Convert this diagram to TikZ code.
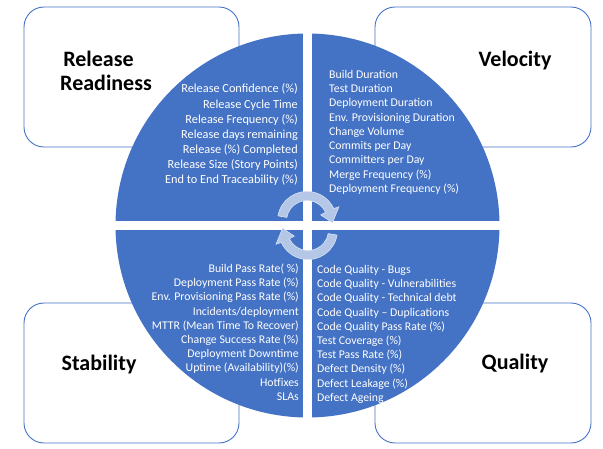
\documentclass[tikz,border=0pt]{standalone}
\usepackage{fontspec}
\setmainfont{Carlito}
\definecolor{obl}{HTML}{4472C4}
\definecolor{arrowfill}{HTML}{B4C7E7}
\newcommand\cyclearrow{%
  \path[carrow] (170:29.5) arc[start angle=170,end angle=25,radius=29.5]
    -- (24:35) -- (-4:25.5) -- (24:15) -- (25:20.5)
    arc[start angle=25,end angle=170,radius=20.5] -- cycle;}
\begin{document}
\begin{tikzpicture}[x=1pt,y=1pt,
  box/.style={draw=obl, line width=0.9pt, fill=white, rounded corners=20pt, inner sep=0pt},
  title/.style={font=\fontsize{22}{26}\selectfont\bfseries, text=black, inner sep=0pt, anchor=base},
  item/.style={font=\fontsize{11.8}{13}\selectfont, text=white, inner sep=0pt},
  ritem/.style={font=\fontsize{12.3}{14}\selectfont, text=white, inner sep=0pt},
  carrow/.style={fill=arrowfill, draw=white!50!arrowfill, line width=0.6pt}]
\useasboundingbox (0,0) rectangle (603,448);
\fill[white] (0,0) rectangle (603,448);
% boxes
\node[box, minimum width=215pt, minimum height=140pt] (rrbox) at (131.5,371) {};
\node[box, minimum width=216pt, minimum height=140pt] (velbox) at (483,371) {};
\node[box, minimum width=215pt, minimum height=140pt] (stabbox) at (131.5,75) {};
\node[box, minimum width=216pt, minimum height=140pt] (qualbox) at (483,75) {};
% titles
\node[title] (rrt1) at (98.5,381) {Release};
\node[title] (rrt2) at (106,357) {Readiness};
\node[title] (velt) at (515,381) {Velocity};
\node[title] (stabt) at (99,78) {Stability};
\node[title] (qualt) at (515,79) {Quality};
% circle
\fill[obl] (307.5,222.5) circle (192);
\begin{scope}
  \clip (307.5,222.5) circle (193);
  \fill[white] (303,20) rectangle (312,425);
  \fill[white] (105,218) rectangle (510,227);
\end{scope}
% cycle arrows
\begin{scope}[shift={(307,227)}]\cyclearrow\end{scope}
\begin{scope}[shift={(308,218)},rotate=180]\cyclearrow\end{scope}
% lists
\foreach \t [count=\i] in {Release Confidence (\%),Release Cycle Time,Release Frequency (\%),Release days remaining,Release (\%) Completed,Release Size (Story Points),End to End Traceability (\%)}
  \node[ritem, anchor=base east] (rl\i) at (298,{355-15.1*(\i-1)}) {\t};
\foreach \t [count=\i] in {Build Duration,Test Duration,Deployment Duration,Env. Provisioning Duration,Change Volume,Commits per Day,Committers per Day,Merge Frequency (\%),Deployment Frequency (\%)}
  \node[item, anchor=base west] (vl\i) at (329,{369.5-14.25*(\i-1)}) {\t};
\foreach \t [count=\i] in {Build Pass Rate( \%),Deployment Pass Rate (\%),Env. Provisioning Pass Rate (\%),Incidents/deployment,MTTR (Mean Time To Recover),Change Success Rate (\%),Deployment Downtime,Uptime (Availability)(\%),Hotfixes,SLAs}
  \node[item, anchor=base east] (sl\i) at (299,{175.5-14.2*(\i-1)}) {\t};
\foreach \t [count=\i] in {Code Quality - Bugs,Code Quality - Vulnerabilities,Code Quality - Technical debt,Code Quality -- Duplications,Code Quality Pass Rate (\%),Test Coverage (\%),Test Pass Rate (\%),Defect Density (\%),Defect Leakage (\%),Defect Ageing}
  \node[item, anchor=base west] (ql\i) at (317,{174.5-14.2*(\i-1)}) {\t};
\end{tikzpicture}
\end{document}
